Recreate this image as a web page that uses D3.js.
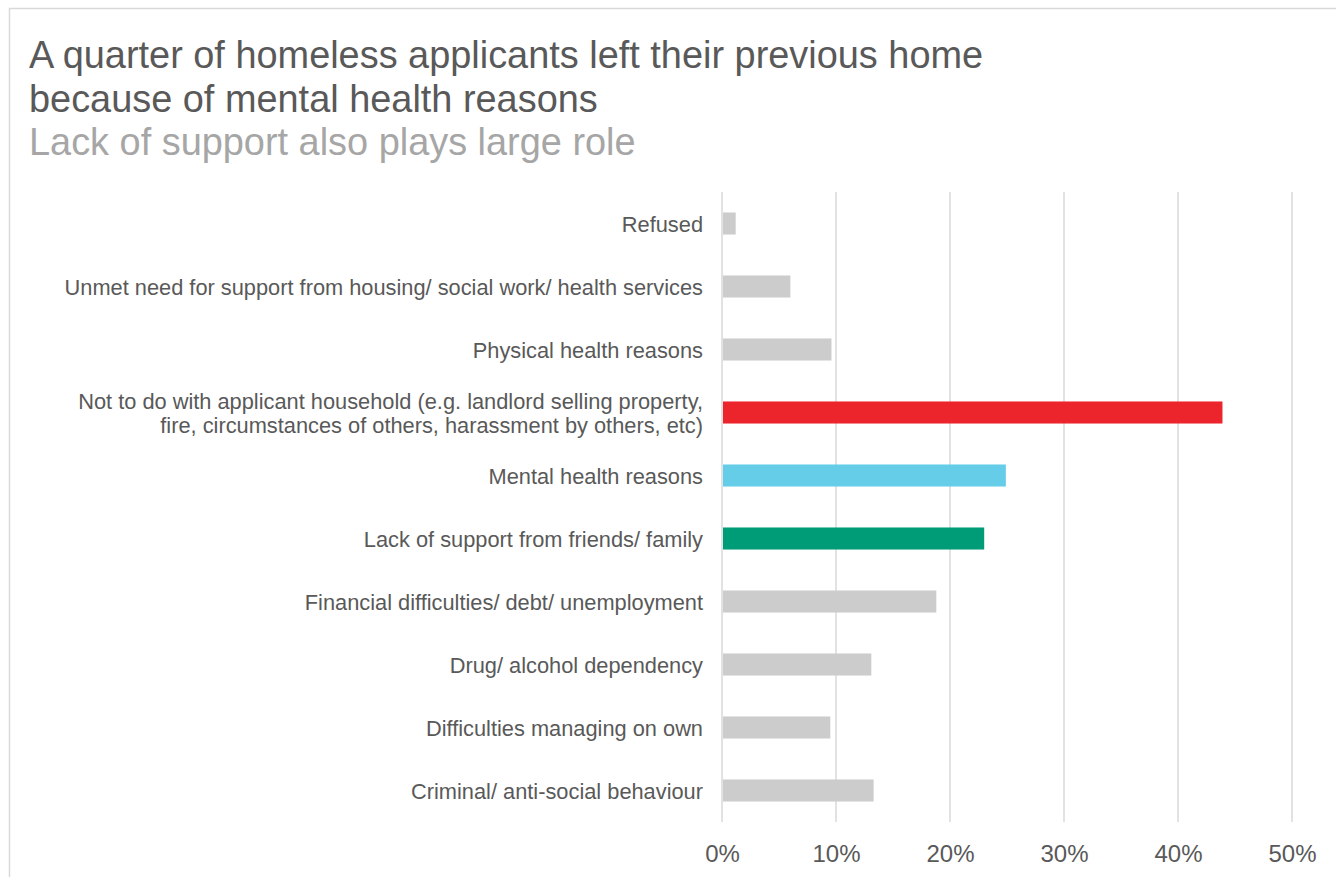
<!DOCTYPE html>
<html>
<head>
<meta charset="utf-8">
<script src="https://cdn.jsdelivr.net/npm/d3@7"></script>
<style>
  html, body { margin: 0; padding: 0; background: #ffffff; }
  svg { display: block; }
  text { font-family: "Liberation Sans", Arial, Helvetica, sans-serif; }
</style>
</head>
<body>
<svg id="chart" width="1336" height="877"></svg>
<script>
// Reasons for leaving previous home (top to bottom)
const categories = [
  "Refused",
  "Unmet need for support from housing/ social work/ health services",
  "Physical health reasons",
  "Not to do with applicant household (e.g. landlord selling property,|fire, circumstances of others, harassment by others, etc)",
  "Mental health reasons",
  "Lack of support from friends/ family",
  "Financial difficulties/ debt/ unemployment",
  "Drug/ alcohol dependency",
  "Difficulties managing on own",
  "Criminal/ anti-social behaviour"
];
// Share of applicants (%)
const values = [1.2, 6.0, 9.6, 43.9, 24.9, 23.0, 18.8, 13.1, 9.5, 13.3];
const barColors = ["#cccccc", "#cccccc", "#cccccc", "#ec242c", "#66cde9", "#009b77", "#cccccc", "#cccccc", "#cccccc", "#cccccc"];
const tickValues = [0, 10, 20, 30, 40, 50];

const titleLines = [
  "A quarter of homeless applicants left their previous home",
  "because of mental health reasons"
];
const subtitle = "Lack of support also plays large role";

const svg = d3.select("#chart");

// Frame
svg.append("path")
  .attr("d", "M9.5,877 V8.5 H1336")
  .attr("fill", "none")
  .attr("stroke", "#d9d9d9")
  .attr("stroke-width", 1.5);

// Titles
svg.selectAll("text.title")
  .data(titleLines)
  .join("text")
  .attr("class", "title")
  .attr("x", 29)
  .attr("y", (d, i) => 68 + i * 43.5)
  .attr("font-size", 37.9)
  .attr("fill", "#595959")
  .text(d => d);

svg.append("text")
  .attr("x", 29)
  .attr("y", 155)
  .attr("font-size", 37.9)
  .attr("fill", "#a6a6a6")
  .text(subtitle);

// Scales
const x = d3.scaleLinear().domain([0, 50]).range([722, 1292]);
const y = d3.scaleBand().domain(categories).range([192, 822]).paddingInner(0.65).paddingOuter(0.325);

// Gridlines
svg.append("g")
  .selectAll("line")
  .data(tickValues)
  .join("line")
  .attr("x1", d => x(d))
  .attr("x2", d => x(d))
  .attr("y1", 192)
  .attr("y2", 822)
  .attr("stroke", "#d9d9d9")
  .attr("stroke-width", 1.5);

// Bars
svg.append("g")
  .selectAll("rect")
  .data(values)
  .join("rect")
  .attr("x", x(0) + 1)
  .attr("y", (d, i) => y(categories[i]))
  .attr("width", d => x(d) - x(0) - 1)
  .attr("height", y.bandwidth())
  .attr("fill", (d, i) => barColors[i]);

// Category labels
const labels = svg.append("g")
  .selectAll("text")
  .data(categories)
  .join("text")
  .attr("x", 703)
  .attr("y", d => y(d) + y.bandwidth() / 2 + 1)
  .attr("text-anchor", "end")
  .attr("font-size", 21.8)
  .attr("fill", "#595959");

labels.each(function (d) {
  const parts = d.split("|");
  const t = d3.select(this);
  parts.forEach((p, i) => {
    t.append("tspan")
      .attr("x", 703)
      .attr("dy", i === 0 ? (0.35 - (parts.length - 1) * 0.55) + "em" : "1.1em")
      .text(p);
  });
});

// X axis tick labels
const xAxis = d3.axisBottom(x)
  .tickValues(tickValues)
  .tickFormat(d => d + "%")
  .tickSize(0)
  .tickPadding(0);

const axisG = svg.append("g")
  .attr("transform", "translate(0,862)")
  .call(xAxis);
axisG.select(".domain").remove();
axisG.selectAll("text")
  .attr("dy", 0)
  .attr("font-size", 24)
  .attr("font-family", "Liberation Sans, Arial, sans-serif")
  .attr("fill", "#595959");
</script>
</body>
</html>
